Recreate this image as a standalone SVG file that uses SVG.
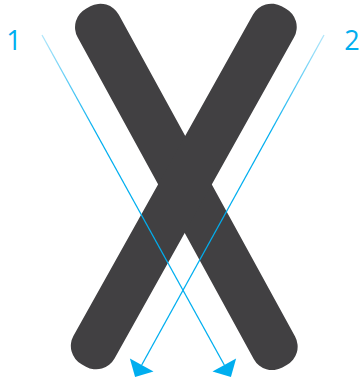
<svg xmlns="http://www.w3.org/2000/svg" width="362" height="385" viewBox="0 0 362 385">
  <style>
    .bar { fill: #414042; }
    .label { font-family: "Open Sans", "Liberation Sans", sans-serif; font-size: 27px; fill: #00AEEF; text-anchor: middle; }
    .conn { fill: none; stroke-width: 1.3; marker-end: url(#head); }
  </style>
  <defs>
    <marker id="head" markerUnits="userSpaceOnUse" viewBox="0 -14 14 28" markerWidth="14" markerHeight="28" refX="0" refY="0" orient="auto" overflow="visible">
      <path d="M0,-13.5 L13.7,0 L0,13.5 Z" fill="#00AEEF"/>
    </marker>
    <linearGradient id="fade1" gradientUnits="userSpaceOnUse" x1="42" y1="35" x2="224.3" y2="365">
      <stop offset="0" stop-color="#00AEEF" stop-opacity="0.3"/>
      <stop offset="0.3" stop-color="#00AEEF" stop-opacity="1"/>
    </linearGradient>
    <linearGradient id="fade2" gradientUnits="userSpaceOnUse" x1="324" y1="35" x2="141.7" y2="365">
      <stop offset="0" stop-color="#00AEEF" stop-opacity="0.3"/>
      <stop offset="0.3" stop-color="#00AEEF" stop-opacity="1"/>
    </linearGradient>
  </defs>

  <g id="bar-1">
    <rect class="bar" x="-23.5" y="-201.5" width="47" height="409" rx="21" ry="21" transform="translate(184.9 184.3) rotate(-28.7)"/>
  </g>
  <g id="bar-2">
    <rect class="bar" x="-23.5" y="-202.5" width="47" height="410" rx="21" ry="21" transform="translate(185 184.3) rotate(29.2)"/>
  </g>

  <g id="label-1">
    <text class="label" x="14" y="50">1</text>
  </g>
  <g id="label-2">
    <text class="label" x="352" y="49.5">2</text>
  </g>

  <g id="connectors">
    <path class="conn" stroke="url(#fade1)" d="M42,35 L224.3,365"/>
    <path class="conn" stroke="url(#fade2)" d="M324,35 L141.7,365"/>
  </g>
</svg>
